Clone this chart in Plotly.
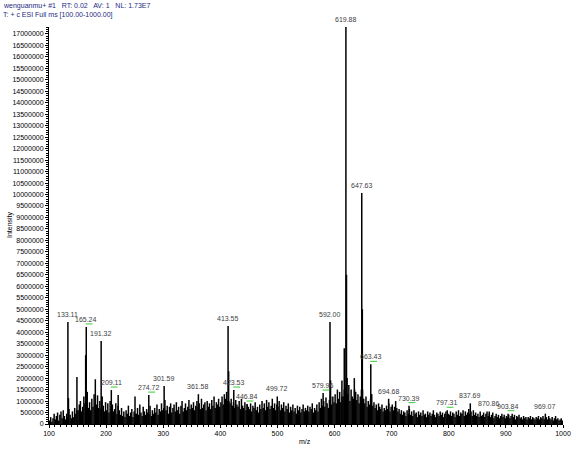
import plotly.graph_objects as go

# ---- data -------------------------------------------------------------
# labelled / prominent peaks (m/z, intensity)
peak_mz = [133.11, 134.10, 148.90, 164.20, 165.24, 166.20, 181.10, 191.32, 192.30,
           209.11, 221.10, 250.60, 274.72, 301.59, 361.58, 413.55, 414.56, 423.53,
           446.84, 499.72, 579.96, 592.00, 593.00, 612.90, 617.00, 619.88, 620.89,
           621.90, 634.60, 647.63, 648.64, 663.43, 664.40, 694.68, 730.39, 797.31,
           837.69, 870.86, 903.84, 969.07]
peak_int = [4.45e6, 1.13e6, 2.05e6, 3.0e6, 4.23e6, 1.3e6, 1.95e6, 3.62e6, 1.2e6,
            1.48e6, 1.26e6, 1.2e6, 1.26e6, 1.66e6, 1.3e6, 4.27e6, 2.3e6, 1.48e6,
            0.87e6, 1.2e6, 1.35e6, 4.45e6, 1.9e6, 1.9e6, 3.3e6, 17.3e6, 6.5e6,
            2.0e6, 2.0e6, 10.07e6, 5.0e6, 2.6e6, 1.3e6, 1.1e6, 0.8e6, 0.6e6,
            0.9e6, 0.55e6, 0.45e6, 0.45e6]

label_mz = [133.11, 165.24, 191.32, 209.11, 274.72, 301.59, 361.58, 413.55, 423.53,
            446.84, 499.72, 579.96, 592.00, 619.88, 647.63, 663.43, 694.68, 730.39,
            797.31, 837.69, 870.86, 903.84, 969.07]
label_text = ["133.11", "165.24", "191.32", "209.11", "274.72", "301.59", "361.58",
              "413.55", "423.53", "446.84", "499.72", "579.96", "592.00", "619.88",
              "647.63", "663.43", "694.68", "730.39", "797.31", "837.69", "870.86",
              "903.84", "969.07"]
label_flag = [0, 1, 0, 1, 1, 0, 0, 0, 1, 1, 0, 1, 0, 0, 0, 1, 0, 1, 1, 0, 0, 1, 0]

# background ion heights (x 10^4 counts) at m/z 101, 103, ..., 999
noise_start = 101
noise_step = 2
noise_1e4 = [
    15, 30, 10, 25, 45, 20, 35, 50, 15, 40, 55, 25, 60, 35, 20, 45, 30, 65, 40, 25, 55, 30, 70, 45, 60,
    60, 85, 100, 55, 75, 120, 90, 80, 140, 70, 95, 60, 110, 75, 130, 85, 85, 125, 70, 100, 65, 120, 80, 55, 95,
    60, 90, 50, 100, 70, 85, 55, 65, 90, 45, 80, 60, 40, 70, 35, 55, 30, 60, 45, 80, 35, 50, 65, 30, 55,
    45, 45, 70, 40, 85, 50, 35, 75, 55, 40, 65, 50, 45, 80, 35, 60, 45, 70, 50, 85, 40, 65, 55, 90, 60,
    70, 105, 60, 80, 45, 75, 90, 50, 70, 85, 55, 95, 60, 75, 45, 80, 100, 55, 70, 90, 60, 75, 105, 65, 85,
    70, 95, 60, 80, 100, 75, 90, 65, 110, 70, 85, 95, 60, 100, 75, 90, 65, 105, 80, 120, 70, 95, 85, 110, 75,
    95, 120, 85, 130, 110, 140, 100, 100, 90, 110, 80, 95, 70, 105, 85, 75, 100, 65, 110, 80, 70, 95, 60, 85, 75,
    65, 90, 55, 80, 70, 95, 60, 75, 50, 85, 65, 100, 70, 90, 60, 105, 75, 95, 65, 80, 110, 70, 90, 60, 85,
    75, 100, 60, 85, 70, 95, 55, 80, 65, 90, 50, 75, 60, 85, 55, 70, 45, 80, 60, 75, 50, 65, 85, 55, 70,
    60, 80, 55, 75, 65, 90, 50, 70, 60, 85, 55, 95, 70, 110, 80, 100, 75, 115, 90, 70, 105, 120, 85, 120, 95,
    130, 90, 150, 110, 140, 95, 120, 120, 150, 160, 200, 130, 170, 100, 150, 120, 110, 150, 140, 105, 130, 90, 120, 150, 150,
    110, 90, 120, 75, 100, 85, 110, 130, 80, 95, 70, 85, 60, 90, 75, 65, 85, 55, 70, 60, 80, 65, 90, 55, 75,
    85, 60, 75, 100, 70, 55, 65, 45, 60, 40, 55, 50, 35, 60, 45, 65, 40, 55, 35, 60, 45, 50, 30, 55, 40,
    50, 35, 60, 40, 45, 30, 55, 40, 50, 35, 45, 60, 40, 30, 50, 45, 35, 55, 40, 50, 30, 45, 55, 40, 45,
    40, 55, 35, 50, 45, 30, 55, 40, 60, 35, 50, 45, 60, 35, 55, 40, 50, 65, 45, 55, 35, 60, 40, 50, 35,
    45, 30, 55, 35, 40, 50, 30, 45, 55, 35, 45, 30, 40, 50, 25, 35, 45, 30, 40, 25, 35, 45, 30, 40, 25,
    35, 30, 40, 25, 35, 45, 30, 40, 20, 35, 30, 40, 25, 30, 20, 35, 25, 30, 20, 30, 25, 35, 20, 30, 25,
    20, 30, 25, 35, 20, 30, 25, 35, 20, 25, 30, 20, 35, 25, 20, 30, 15, 25, 35, 20, 25, 15, 20, 25, 15,
]

header_1 = "wenguanmu+ #1   RT: 0.02   AV: 1   NL: 1.73E7"
header_2 = "T: + c ESI Full ms [100.00-1000.00]"
x_title = "m/z"
y_title = "Intensity"

# ---- layout constants (pixels) ----------------------------------------
W, H = 576, 453
ML, MR, MT, MB = 49, 13, 27, 29
PW, PH = W - ML - MR, H - MT - MB
FONT = "Liberation Sans, Arial, sans-serif"

def px_x(px):
    return (px - ML) / PW

def px_y(py):
    return (H - MB - py) / PH

# ---- build sticks ----------------------------------------------------
all_mz = [noise_start + i * noise_step for i in range(len(noise_1e4))] + peak_mz
all_int = [v * 1e4 for v in noise_1e4] + peak_int

xs, ys = [], []
for m, h in zip(all_mz, all_int):
    xs += [m, m, None]
    ys += [0, h, None]

fig = go.Figure()
fig.add_trace(go.Scatter(x=xs, y=ys, mode="lines",
                         line=dict(color="black", width=1.5),
                         hoverinfo="skip", showlegend=False))

lookup = dict(zip(peak_mz, peak_int))
for m, t, f in zip(label_mz, label_text, label_flag):
    h = lookup[m]
    fig.add_annotation(x=m, y=h, text=t, showarrow=False, yanchor="bottom",
                       yshift=2, font=dict(family=FONT, size=7, color="#404040"))
    if f:
        fig.add_shape(type="line", xref="x", yref="y", x0=m - 1, x1=m + 11,
                      ysizemode="pixel", yanchor=h, y0=3, y1=3,
                      line=dict(color="#33cc33", width=1))

fig.add_annotation(xref="paper", yref="paper", x=px_x(1), y=px_y(6),
                   text=header_1, showarrow=False, xanchor="left", yanchor="middle",
                   font=dict(family=FONT, size=7, color="#1c2a80"))
fig.add_annotation(xref="paper", yref="paper", x=px_x(1), y=px_y(15),
                   text=header_2, showarrow=False, xanchor="left", yanchor="middle",
                   font=dict(family=FONT, size=7, color="#1c2a80"))
fig.add_annotation(xref="paper", yref="paper", x=px_x(10), y=px_y(225),
                   text=y_title, showarrow=False, textangle=-90,
                   xanchor="center", yanchor="middle",
                   font=dict(family=FONT, size=7, color="black"))
fig.add_annotation(xref="paper", yref="paper", x=px_x(305), y=px_y(441),
                   text=x_title, showarrow=False,
                   xanchor="center", yanchor="middle",
                   font=dict(family=FONT, size=7, color="black"))

fig.update_layout(
    template="none",
    width=W, height=H,
    margin=dict(l=ML, r=MR, t=MT, b=MB, pad=0),
    paper_bgcolor="white", plot_bgcolor="white",
    font=dict(family=FONT, size=7, color="black"),
    showlegend=False,
)
fig.update_xaxes(range=[100, 1000], dtick=100, tick0=100, showgrid=False, zeroline=False,
                 automargin=False,
                 showline=True, linecolor="black", linewidth=1,
                 ticks="outside", ticklen=3, tickcolor="black", tickwidth=1,
                 minor=dict(dtick=10, ticks="outside", ticklen=2, tickcolor="black", showgrid=False),
                 tickfont=dict(family=FONT, size=7, color="black"))
fig.update_yaxes(range=[0, 17.3e6], dtick=500000, tick0=0, showgrid=False, zeroline=False,
                 automargin=False,
                 showline=True, linecolor="black", linewidth=1,
                 ticks="outside", ticklen=3, tickcolor="black", tickwidth=1,
                 minor=dict(dtick=100000, ticks="outside", ticklen=2, tickcolor="black", showgrid=False),
                 tickformat="d", tickfont=dict(family=FONT, size=7, color="black"))

fig.write_html("out.html",
               config={"displayModeBar": False, "staticPlot": True},
               post_script="document.body.style.margin='0';document.body.style.padding='0';")
